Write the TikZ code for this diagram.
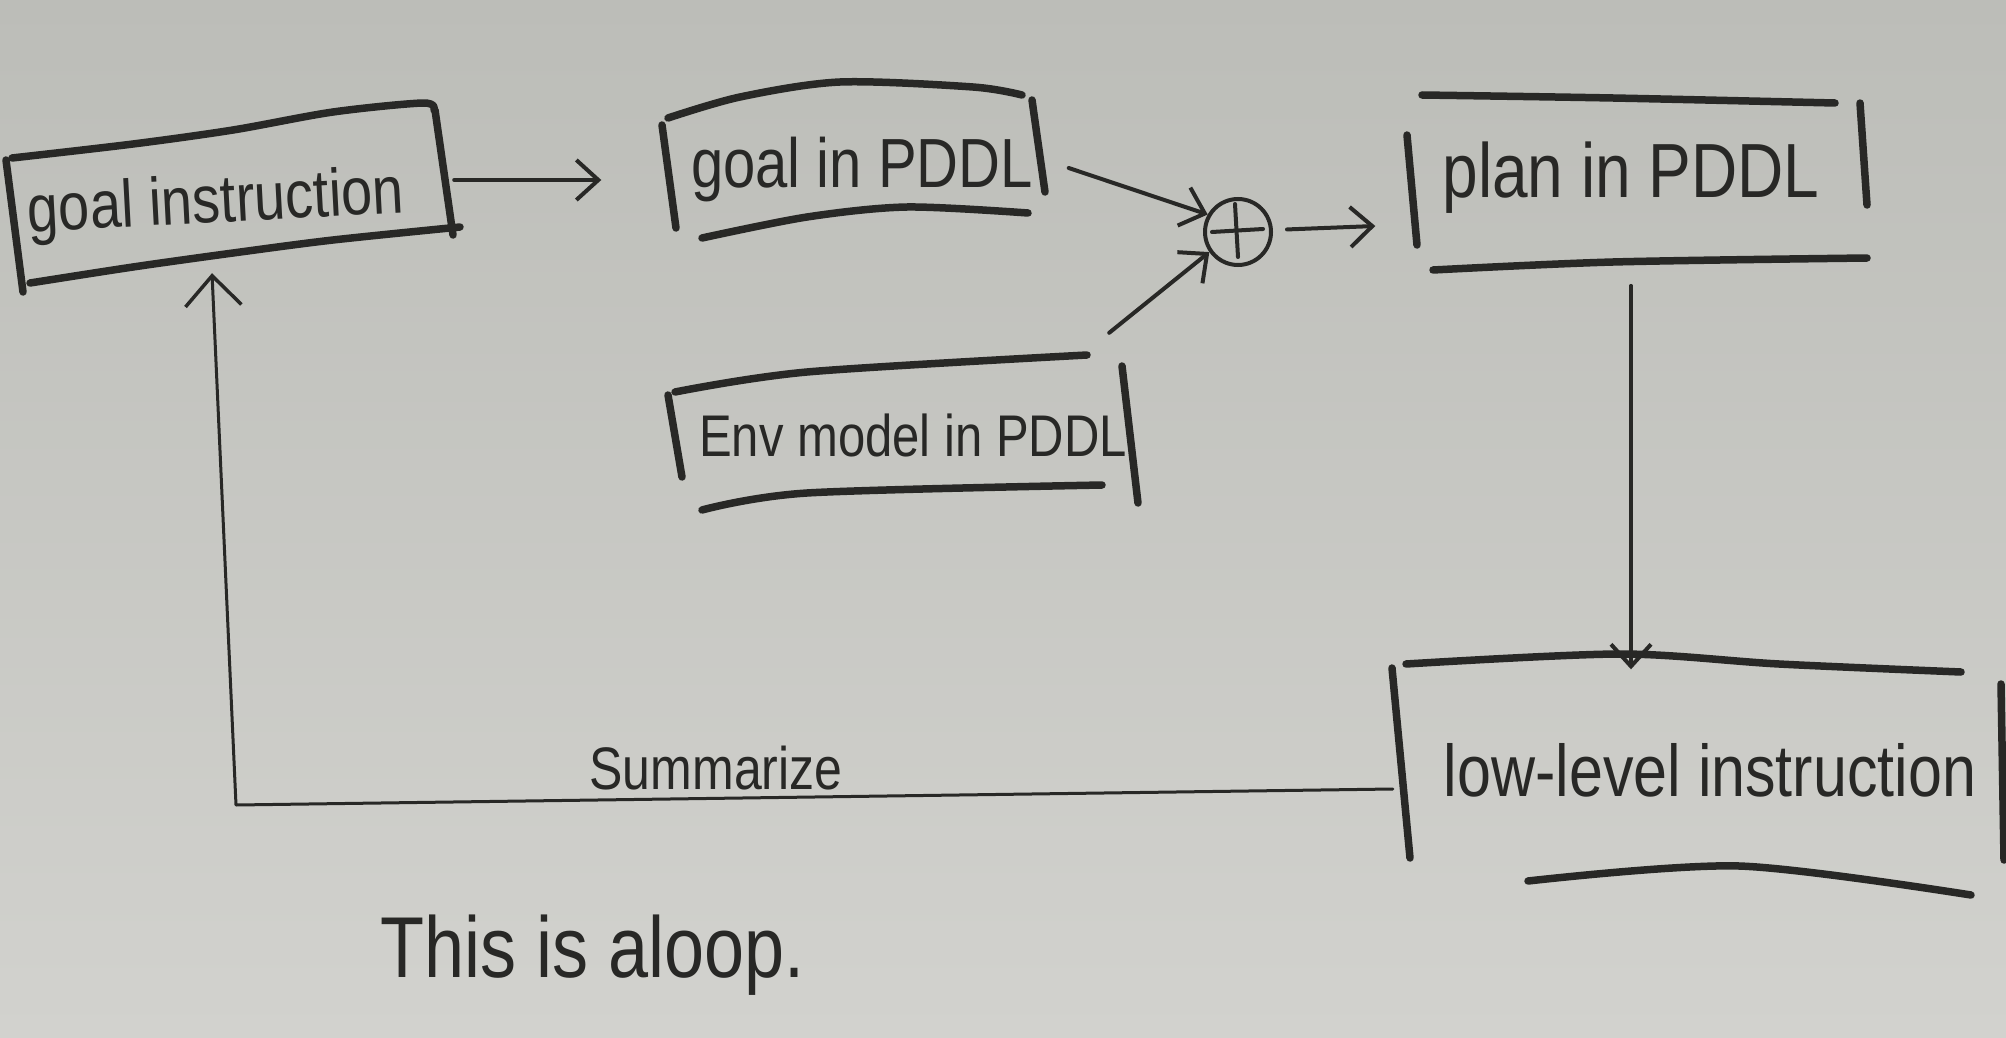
\documentclass[tikz,border=0pt]{standalone}
\usepackage{fontspec}
\setmainfont{Liberation Sans}
\usetikzlibrary{arrows.meta,calc}
\definecolor{ink}{RGB}{40,40,38}
\definecolor{papertop}{RGB}{188,189,184}
\definecolor{paperbot}{RGB}{210,210,206}
\newcommand{\tallword}[1]{\scalebox{1}[1.2]{#1}}
\begin{document}
\begin{tikzpicture}[x=1pt,y=-1pt,
  pen/.style={ink, line width=7.5pt, line cap=round, line join=round},
  conn/.style={ink, line width=4pt, line cap=round, line join=round,
    -{Straight Barb[length=22pt,width=40pt,line width=4pt]}},
  thinconn/.style={ink, line width=3pt, line cap=round, line join=round,
    -{Straight Barb[length=30pt,width=56pt,line width=3.5pt]}},
  box/.style 2 args={minimum width=#1pt, minimum height=#2pt, inner sep=0pt, text=ink},
  words/.style={inner sep=0pt, text=ink}]

% paper
\shade[top color=papertop, bottom color=paperbot] (0,0) rectangle (2006,1038);
\useasboundingbox (0,0) rectangle (2006,1038);

% nodes
\node[box={452}{182}, font=\fontsize{56}{60}\selectfont] (gi) at (216,205) {\rotatebox{3}{\tallword{goal instruction}}};
\node[box={377}{150}, font=\fontsize{58}{62}\selectfont] (gp) at (862,170) {\tallword{goal in PDDL}};
\node[draw=ink, line width=4pt, circle, minimum size=66pt, inner sep=0pt] (plus) at (1238,232) {};
\node[box={455}{175}, font=\fontsize{64}{68}\selectfont] (plan) at (1631,178) {\tallword{plan in PDDL}};
\node[box={470}{150}, font=\fontsize{49}{53}\selectfont] (env) at (913,435) {\tallword{Env model in PDDL}};
\node[box={610}{225}, font=\fontsize{61}{65}\selectfont] (ll) at (1710,770) {\tallword{low-level instruction}};
\node[words, font=\fontsize{50}{54}\selectfont] (sum) at (716,768) {\tallword{Summarize}};
\node[words, font=\fontsize{72}{76}\selectfont] (loop) at (593,955) {\tallword{This is aloop.}};
\coordinate (turn) at (236,805);

% hand-drawn frames
\draw[pen] plot[smooth] coordinates {(12,158) (133,144) (233,130) (333,112) (423,103) (434,110)};
\draw[pen] (435,110) -- (453,235);
\draw[pen] plot[smooth] coordinates {(30,283) (133,267) (233,253) (333,240) (460,227)};
\draw[pen] (6,160) -- (23,292);

\draw[pen] plot[smooth] coordinates {(668,118) (740,97) (840,82) (973,87) (1022,95)};
\draw[pen] (662,125) -- (676,228);
\draw[pen] (1032,100) -- (1045,192);
\draw[pen] plot[smooth] coordinates {(702,238) (807,217) (907,207) (1028,213)};

\draw[pen] plot[smooth] coordinates {(1422,95) (1613,98) (1835,103)};
\draw[pen] (1407,135) -- (1417,245);
\draw[pen] (1860,103) -- (1867,205);
\draw[pen] plot[smooth] coordinates {(1433,270) (1613,262) (1867,258)};

\draw[pen] plot[smooth] coordinates {(675,392) (807,372) (1087,355)};
\draw[pen] (668,395) -- (682,477);
\draw[pen] (1122,366) -- (1138,503);
\draw[pen] plot[smooth] coordinates {(702,510) (807,493) (1102,485)};

\draw[pen] plot[smooth] coordinates {(1406,664) (1620,654) (1779,664) (1961,672)};
\draw[pen] (1392,668) -- (1410,858);
\draw[pen] (2001,684) -- (2004,860);
\draw[pen] plot[smooth] coordinates {(1528,881) (1739,866) (1971,895)};

% plus sign inside the circle
\draw[ink, line width=4pt, line cap=round] ([xshift=-26pt]plus.center) -- ([xshift=25pt,yshift=3pt]plus.center);
\draw[ink, line width=4pt, line cap=round] ([xshift=-3pt,yshift=28pt]plus.center) -- ([yshift=-25pt]plus.center);

% connectors
\draw[conn] ([shift={(12pt,25pt)}]gi.east) -- ([shift={(-72pt,-10pt)}]gp.west);
\draw[conn] ([shift={(18pt,2pt)}]gp.east) -- (plus.150);
\draw[conn] ([shift={(-39pt,27pt)}]env.north east) -- (plus.215);
\draw[conn, shorten <=14pt] ([yshift=2pt]plus.east) -- ([shift={(-28pt,-48pt)}]plan.west);
\draw[conn, line width=3.5pt] ([yshift=-20pt]plan.south) -- ([yshift=-12pt]plan.south |- ll.north);
\draw[thinconn] ([shift={(-12pt,-19pt)}]ll.west) -- (turn) -- ([shift={(-4pt,23pt)}]gi.south);
\end{tikzpicture}
\end{document}
